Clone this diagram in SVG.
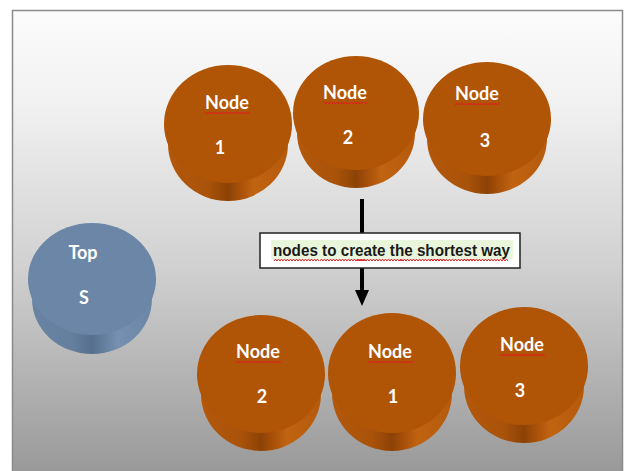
<svg xmlns="http://www.w3.org/2000/svg" width="627" height="471" viewBox="0 0 627 471">
<defs>
<linearGradient id="bg" x1="0" y1="0" x2="0" y2="1">
<stop offset="0" stop-color="#fcfcfc"/>
<stop offset="0.2" stop-color="#f1f1f1"/>
<stop offset="0.55" stop-color="#d0d0d0"/>
<stop offset="1" stop-color="#979797"/>
</linearGradient>
<linearGradient id="sideO" x1="0" y1="0" x2="1" y2="0">
<stop offset="0" stop-color="#b4590c"/>
<stop offset="0.35" stop-color="#a9520a"/>
<stop offset="0.5" stop-color="#8c4206"/>
<stop offset="0.58" stop-color="#a54e09"/>
<stop offset="0.7" stop-color="#c06411"/>
<stop offset="1" stop-color="#b4590c"/>
</linearGradient>
<linearGradient id="sideB" x1="0" y1="0" x2="1" y2="0">
<stop offset="0" stop-color="#6a84a4"/>
<stop offset="0.35" stop-color="#647e9e"/>
<stop offset="0.5" stop-color="#566f8e"/>
<stop offset="0.58" stop-color="#627c9c"/>
<stop offset="0.7" stop-color="#7590b0"/>
<stop offset="1" stop-color="#6a84a4"/>
</linearGradient>
<path id="sq" d="M0,0 l1.5,-2 l1.5,2 l1.5,-2 l1.5,2 l1.5,-2 l1.5,2 l1.5,-2 l1.5,2 l1.5,-2 l1.5,2 l1.5,-2 l1.5,2 l1.5,-2 l1.5,2 l1.5,-2 l1.5,2 l1.5,-2 l1.5,2 l1.5,-2 l1.5,2 l1.5,-2 l1.5,2 l1.5,-2 l1.5,2 l1.5,-2 l1.5,2 l1.5,-2 l1.5,2 l1.5,-2 l1.5,2"/>
</defs>
<style>
.top{fill:#b05405}
.side{fill:url(#sideO)}
.topB{fill:#6b86a6}
.sideB{fill:url(#sideB)}
.t{font-family:Lato,"Noto Sans",sans-serif;font-weight:bold;font-size:18px;fill:#ffffff;text-anchor:middle}
.s{fill:none;stroke:#e02020;stroke-width:1}
</style>
<rect x="0" y="0" width="627" height="471" fill="#ffffff"/>
<rect x="12.5" y="10.5" width="610" height="470" fill="url(#bg)" stroke="#8a8a8a" stroke-width="1.5"/>

<g id="connectors">
<line x1="362" y1="199" x2="362" y2="292" stroke="#000" stroke-width="4"/>
<polygon points="355,290 369,290 362,306" fill="#000"/>
</g>

<g id="label">
<rect x="260" y="233" width="260" height="35" fill="#ffffff" stroke="#222" stroke-width="1.5"/>
<rect x="271" y="240" width="242" height="19" fill="#eaf6dc"/>
<text x="273" y="256" font-family="'Liberation Sans Narrow','Liberation Sans',sans-serif" font-weight="bold" font-size="16" fill="#1a1a1a" textLength="237" lengthAdjust="spacingAndGlyphs">nodes to create the shortest way</text>
<use href="#sq" x="274" y="261" class="s"/>
<use href="#sq" x="320" y="261" class="s"/>
<use href="#sq" x="357" y="261" class="s"/>
<use href="#sq" x="400" y="261" class="s"/>
<use href="#sq" x="430" y="261" class="s"/>
<use href="#sq" x="463" y="261" class="s"/>
</g>

<g id="node-top1">
<path class="side" d="M164,124 L168,144 A60,57 0 0 0 288,144 L292,124 Z"/>
<ellipse class="top" cx="228" cy="124" rx="64" ry="59"/>
<text class="t" x="227" y="109">Node</text>
<use href="#sq" x="205" y="114" class="s"/>
<text class="t" x="220" y="154">1</text>
</g>

<g id="node-top2">
<path class="side" d="M293,113 L297,133 A59,55 0 0 0 415,133 L419,113 Z"/>
<ellipse class="top" cx="356" cy="113" rx="63" ry="57"/>
<text class="t" x="345" y="99">Node</text>
<use href="#sq" x="323" y="104" class="s"/>
<text class="t" x="348" y="144">2</text>
</g>

<g id="node-top3">
<path class="side" d="M423,119 L427,139 A60,55 0 0 0 547,139 L551,119 Z"/>
<ellipse class="top" cx="487" cy="119" rx="64" ry="57"/>
<text class="t" x="477" y="100">Node</text>
<use href="#sq" x="455" y="105" class="s"/>
<text class="t" x="485" y="147">3</text>
</g>

<g id="node-top-s">
<path class="sideB" d="M28,279 L32,299 A60,55 0 0 0 152,299 L156,279 Z"/>
<ellipse class="topB" cx="92" cy="279" rx="64" ry="56"/>
<text class="t" x="83" y="259">Top</text>
<text class="t" x="84" y="304">S</text>
</g>

<g id="node-bottom2">
<path class="side" d="M197,374 L201,394 A60,57 0 0 0 321,394 L325,374 Z"/>
<ellipse class="top" cx="261" cy="374" rx="64" ry="59"/>
<text class="t" x="258" y="358">Node</text>
<use href="#sq" x="236" y="363" class="s"/>
<text class="t" x="262" y="403">2</text>
</g>

<g id="node-bottom1">
<path class="side" d="M328,373 L332,393 A60,58 0 0 0 452,393 L456,373 Z"/>
<ellipse class="top" cx="392" cy="373" rx="64" ry="60"/>
<text class="t" x="390" y="358">Node</text>
<use href="#sq" x="368" y="363" class="s"/>
<text class="t" x="393" y="403">1</text>
</g>

<g id="node-bottom3">
<path class="side" d="M460,366 L464,386 A60,57 0 0 0 584,386 L588,366 Z"/>
<ellipse class="top" cx="524" cy="366" rx="64" ry="59"/>
<text class="t" x="522" y="351">Node</text>
<use href="#sq" x="500" y="356" class="s"/>
<text class="t" x="520" y="397">3</text>
</g>
</svg>
